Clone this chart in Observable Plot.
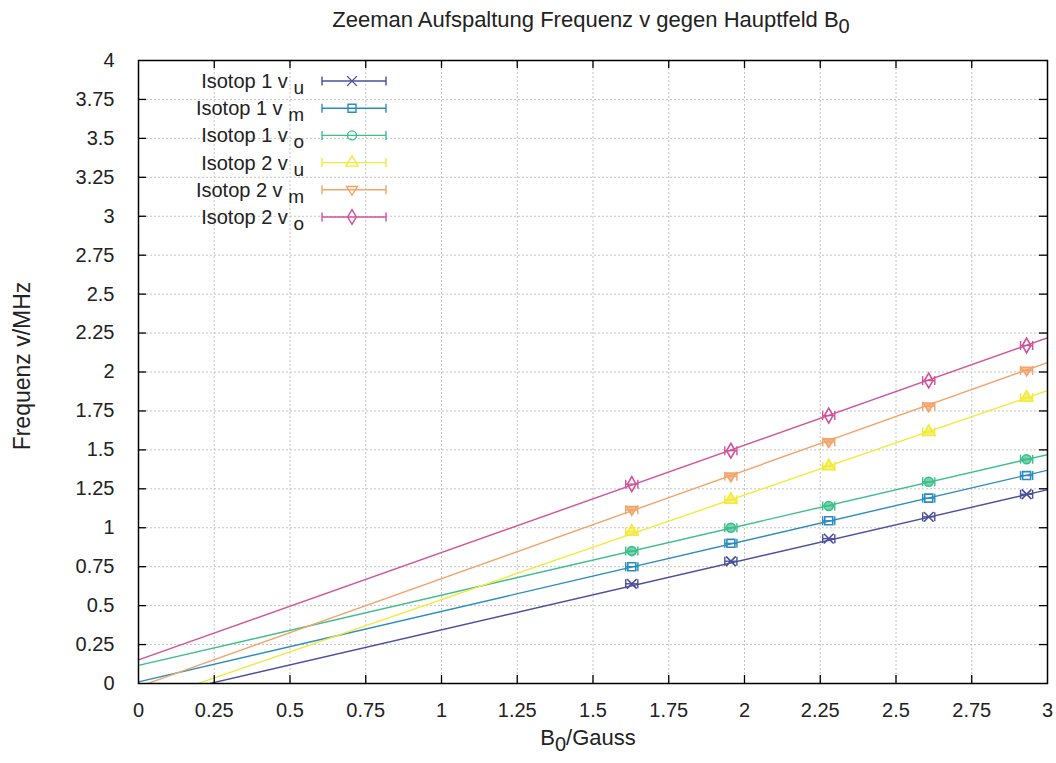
<!DOCTYPE html>
<html><head><meta charset="utf-8">
<script src="https://cdn.jsdelivr.net/npm/d3@7"></script>
<script src="https://cdn.jsdelivr.net/npm/@observablehq/plot@0.6"></script>
<style>
body{margin:0;background:#fff}
svg{font-family:"Liberation Sans",Arial,sans-serif}
</style>
</head><body><div id="chart"></div>
<script>
// ---- data ----
const seriesMain = ["Isotop 1 v", "Isotop 1 v", "Isotop 1 v", "Isotop 2 v", "Isotop 2 v", "Isotop 2 v"];
const seriesSub = ["u", "m", "o", "u", "m", "o"];
const fieldB0 = [1.628, 1.955, 2.278, 2.608, 2.931];
const iso1_u = [0.64, 0.785, 0.93, 1.07, 1.215];
const iso1_m = [0.75, 0.90, 1.045, 1.19, 1.335];
const iso1_o = [0.85, 1.00, 1.14, 1.295, 1.44];
const iso2_u = [0.975, 1.18, 1.395, 1.615, 1.835];
const iso2_m = [1.115, 1.33, 1.55, 1.78, 2.01];
const iso2_o = [1.28, 1.495, 1.72, 1.945, 2.17];
const seriesValues = [iso1_u, iso1_m, iso1_o, iso2_u, iso2_m, iso2_o];
const xError = 0.02;
// linear fit parameters (frequency = slope * B0 + intercept)
const fitSlope = [0.450, 0.453, 0.451, 0.671, 0.694, 0.689];
const fitIntercept = [-0.106, 0.010, 0.116, -0.132, -0.021, 0.152];
const xDomain = [0, 3];
const yDomain = [0, 4];
const xTicks = [0, 0.25, 0.5, 0.75, 1, 1.25, 1.5, 1.75, 2, 2.25, 2.5, 2.75, 3];
const yTicks = [0, 0.25, 0.5, 0.75, 1, 1.25, 1.5, 1.75, 2, 2.25, 2.5, 2.75, 3, 3.25, 3.5, 3.75, 4];
const colors = ["#4a4f9e", "#2b8cbd", "#3dbf8c", "#f2ea3c", "#f3a469", "#d0539a"];

// ---- layout ----
const W = 1056, H = 763;
const mL = 138, mR = 9, mT = 60, mB = 80;
const plotW = W - mL - mR, plotH = H - mT - mB;

const invTriangle = {draw(ctx, size) {
  const r = Math.sqrt(size / Math.PI) * 1.2;
  ctx.moveTo(-r, -r * 0.6); ctx.lineTo(r, -r * 0.6); ctx.lineTo(0, r * 1.0); ctx.closePath();
}};
const capSymbol = {draw(ctx, size) {
  const r = Math.sqrt(size / Math.PI);
  ctx.moveTo(0, -r); ctx.lineTo(0, r);
}};
const symbols = ["times", "square", "circle", "triangle", invTriangle, "diamond"];
const filled = [false, false, true, true, true, false];

const marks = [
  Plot.gridX(xTicks, {stroke: "#c4c4c4", strokeOpacity: 1, strokeDasharray: "2,2"}),
  Plot.gridY(yTicks, {stroke: "#c4c4c4", strokeOpacity: 1, strokeDasharray: "2,2"})
];

seriesValues.forEach((vals, i) => {
  const col = colors[i];
  const pts = fieldB0.map((b, j) => ({x: b, y: vals[j]}));
  const fit = xDomain.map(x => ({x, y: fitSlope[i] * x + fitIntercept[i]}));
  marks.push(Plot.line(fit, {x: "x", y: "y", stroke: col, strokeWidth: 1.4, clip: true}));
  marks.push(Plot.link(pts, {x1: d => d.x - xError, x2: d => d.x + xError, y1: "y", y2: "y", stroke: col, strokeWidth: 1.4}));
  marks.push(Plot.dot(pts, {x: d => d.x - xError, y: "y", symbol: capSymbol, r: 4.5, stroke: col, strokeWidth: 1.4}));
  marks.push(Plot.dot(pts, {x: d => d.x + xError, y: "y", symbol: capSymbol, r: 4.5, stroke: col, strokeWidth: 1.4}));
  marks.push(Plot.dot(pts, {x: "x", y: "y", symbol: symbols[i], r: 4.5, stroke: col, strokeWidth: 1.6,
    fill: filled[i] ? col : "none", fillOpacity: 0.7}));
});

marks.push(
  Plot.frame({stroke: "#000", strokeWidth: 1.5}),
  Plot.tickY(yTicks.slice(1, -1), {y: d => d, insetRight: plotW - 8, stroke: "#000", strokeWidth: 1.3}),
  Plot.tickY(yTicks.slice(1, -1), {y: d => d, insetLeft: plotW - 8, stroke: "#000", strokeWidth: 1.3}),
  Plot.tickX(xTicks.slice(1, -1), {x: d => d, insetTop: plotH - 8, stroke: "#000", strokeWidth: 1.3}),
  Plot.tickX(xTicks.slice(1, -1), {x: d => d, insetBottom: plotH - 8, stroke: "#000", strokeWidth: 1.3}),
  Plot.axisY(yTicks, {tickSize: 0, tickPadding: 24, tickFormat: d => String(d), label: null, fontSize: 20, fill: "#222"}),
  Plot.axisX(xTicks, {tickSize: 0, tickPadding: 19, tickFormat: d => String(d), label: null, fontSize: 20, fill: "#222"})
);

const chart = Plot.plot({
  width: W, height: H,
  marginLeft: mL, marginRight: mR, marginTop: mT, marginBottom: mB,
  x: {domain: xDomain},
  y: {domain: yDomain},
  style: {fontSize: "20px", fontFamily: "'Liberation Sans', Arial, sans-serif", background: "#fff", color: "#222"},
  marks
});
document.getElementById("chart").appendChild(chart);

// ---- titles, labels, legend ----
const svg = d3.select(chart);
const g = svg.append("g").attr("fill", "#222").style("font-family", "'Liberation Sans', Arial, sans-serif");

function subText(parent, parts, attrs, subShift = 6) {
  const t = parent.append("text");
  Object.entries(attrs).forEach(([k, v]) => t.attr(k, v));
  let shift = 0;
  parts.forEach(p => {
    const ts = t.append("tspan").text(p.text);
    const target = p.sub ? subShift : 0;
    if (target !== shift) { ts.attr("dy", target - shift); shift = target; }
    if (p.sub) ts.attr("font-size", p.size || 18);
  });
  return t;
}

subText(g, [{text: "Zeeman Aufspaltung Frequenz v gegen Hauptfeld B"}, {text: "0", sub: true, size: 20}],
  {x: 591, y: 27, "text-anchor": "middle", "font-size": 22});
subText(g, [{text: "B"}, {text: "0", sub: true, size: 20}, {text: "/Gauss"}],
  {x: 588, y: 745, "text-anchor": "middle", "font-size": 22});
g.append("text").attr("transform", `translate(30,366) rotate(-90)`)
  .attr("text-anchor", "middle").attr("font-size", 23).text("Frequenz v/MHz");

const legendTop = 81, legendStep = 27.2;
const symGen = [d3.symbolTimes, d3.symbolSquare, d3.symbolCircle, d3.symbolTriangle, invTriangle, d3.symbolDiamond];
seriesMain.forEach((name, i) => {
  const cy = legendTop + i * legendStep;
  const col = colors[i];
  subText(g, [{text: name + " "}, {text: seriesSub[i], sub: true, size: 19}],
    {x: 304, y: cy + 7, "text-anchor": "end", "font-size": 20});
  const lg = g.append("g").attr("stroke", col).attr("stroke-width", 1.4).attr("fill", "none");
  lg.append("line").attr("x1", 322).attr("x2", 386).attr("y1", cy).attr("y2", cy);
  lg.append("line").attr("x1", 322).attr("x2", 322).attr("y1", cy - 4.5).attr("y2", cy + 4.5);
  lg.append("line").attr("x1", 386).attr("x2", 386).attr("y1", cy - 4.5).attr("y2", cy + 4.5);
  lg.append("path").attr("transform", `translate(352,${cy})`)
    .attr("d", d3.symbol(symGen[i], Math.PI * 4.5 * 4.5)());
});
</script>
</body></html>
